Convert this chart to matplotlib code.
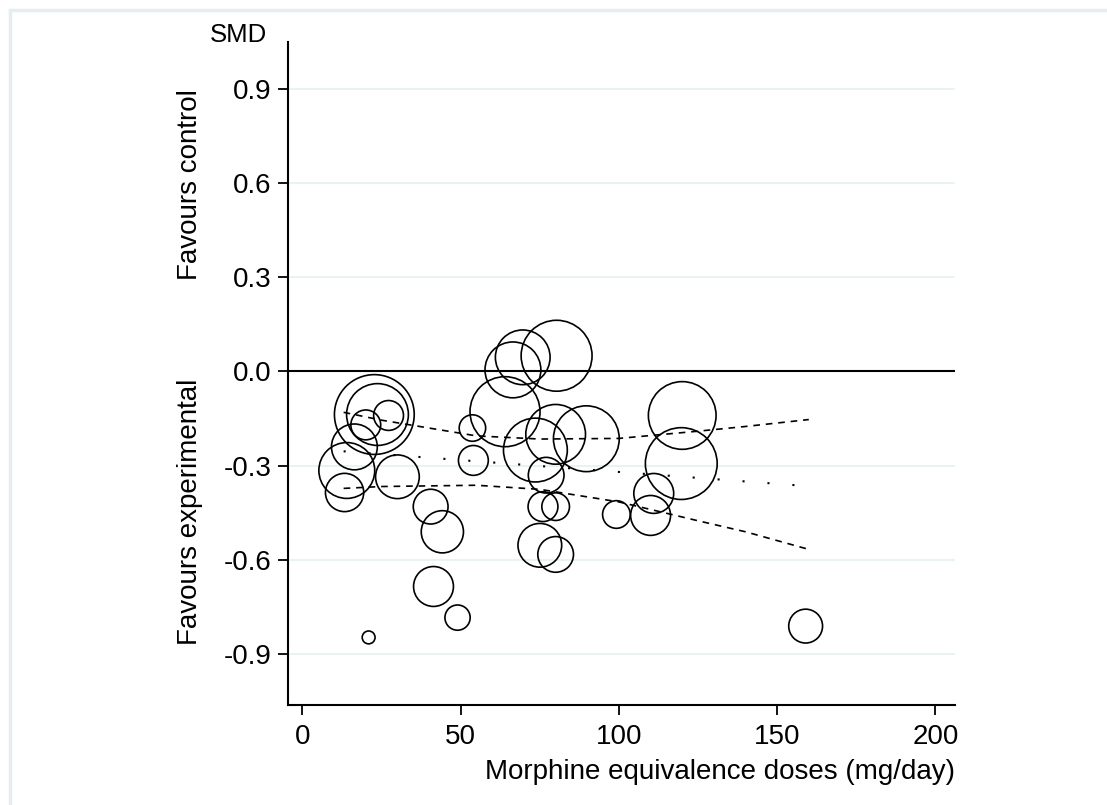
import numpy as np
import matplotlib
matplotlib.use("Agg")
import matplotlib.pyplot as plt
from matplotlib.patches import Rectangle
import matplotlib.transforms as mtransforms

plt.rcParams['font.family'] = ['Liberation Sans', 'DejaVu Sans']

# studies: dose (mg/day), SMD, relative weight (bubble area)
dose = [22.7, 23.7, 27.2, 20.0, 16.4, 14.0, 13.3, 30.0, 40.5, 44.2, 41.4, 49.0, 20.9,
        53.7, 54.0, 64.0, 66.5, 69.6, 80.3, 73.6, 80.0, 89.7, 77.0, 76.0, 80.0, 75.0,
        80.0, 99.2, 120.0, 119.7, 111.0, 110.0, 159.0]
smd = [-0.137, -0.137, -0.14, -0.17, -0.24, -0.315, -0.385, -0.335, -0.43, -0.51, -0.684,
       -0.783, -0.846, -0.18, -0.283, -0.128, 0.005, 0.045, 0.05, -0.25, -0.20, -0.214,
       -0.33, -0.43, -0.43, -0.553, -0.582, -0.455, -0.14, -0.293, -0.388, -0.458, -0.81]
weight = [100, 60, 14, 14, 33, 49, 23, 30, 19, 28, 25, 10, 2.6,
          11, 14, 77, 49, 47, 79, 64, 56, 68, 20, 14, 12, 30,
          20, 12, 72, 81, 25, 25, 18]

# meta-regression fit and confidence band
fit_x = [13, 160]
fit_y = [-0.254, -0.365]
ci_x = [13, 25, 40, 55, 75, 100, 125, 140, 160]
ci_upper = [-0.13, -0.155, -0.18, -0.205, -0.215, -0.213, -0.19, -0.175, -0.153]
ci_lower = [-0.372, -0.366, -0.364, -0.362, -0.375, -0.415, -0.475, -0.51, -0.566]

yticks = [0.9, 0.6, 0.3, 0.0, -0.3, -0.6, -0.9]
ytick_labels = ['0.9', '0.6', '0.3', '0.0', '-0.3', '-0.6', '-0.9']
xticks = [0, 50, 100, 150, 200]

W, H = 1107, 805
fig = plt.figure(figsize=(W / 100, H / 100), dpi=100)
fig.patches.append(Rectangle((10 / W, -0.1), 1.2, (H - 10) / H + 0.1, transform=fig.transFigure,
                             fill=False, edgecolor='#e6edf0', linewidth=2.5))
ax = fig.add_axes([288 / W, 1 - 705 / H, (955 - 288) / W, (705 - 42) / H])

for t in yticks:
    if t != 0:
        ax.axhline(t, color='#e8f0f1', linewidth=1.2, zorder=0)
ax.axhline(0, color='black', linewidth=1.5, zorder=1)

ax.plot(ci_x, ci_upper, color='black', linewidth=1.2, linestyle=(0, (4, 3.5)))
ax.plot(ci_x, ci_lower, color='black', linewidth=1.2, linestyle=(0, (4, 3.5)))
ax.plot(fit_x, fit_y, color='black', linewidth=1.5, linestyle=(0, (1, 11)))

ax.scatter(dose, smd, s=np.array(weight) * 33, facecolors='none', edgecolors='black',
           linewidths=1.2, zorder=3)

ax.set_xlim(-4.58, 206.2)
ax.set_ylim(-1.061, 1.048)
ax.set_xticks(xticks)
ax.set_yticks(yticks)
ax.set_yticklabels(ytick_labels)
for s in ['top', 'right']:
    ax.spines[s].set_visible(False)
for s in ['left', 'bottom']:
    ax.spines[s].set_linewidth(1.5)
ax.tick_params(axis='both', length=7, width=1.3, labelsize=20, colors='black')
ax.tick_params(axis='x', pad=7)
ax.tick_params(axis='y', pad=5)

ax.text(1.0, -0.081, 'Morphine equivalence doses (mg/day)', transform=ax.transAxes,
        ha='right', va='top', fontsize=20)
ax.text(267 / W, 1 - 47 / H, 'SMD', transform=fig.transFigure, ha='right', va='bottom', fontsize=18.5)

trans = mtransforms.blended_transform_factory(fig.transFigure, ax.transData)
ax.text(190 / W, 0.596, 'Favours control', transform=trans, rotation=90,
        ha='center', va='center', fontsize=20)
ax.text(190 / W, -0.445, 'Favours experimental', transform=trans, rotation=90,
        ha='center', va='center', fontsize=20)

fig.savefig('out.png', dpi=100)
